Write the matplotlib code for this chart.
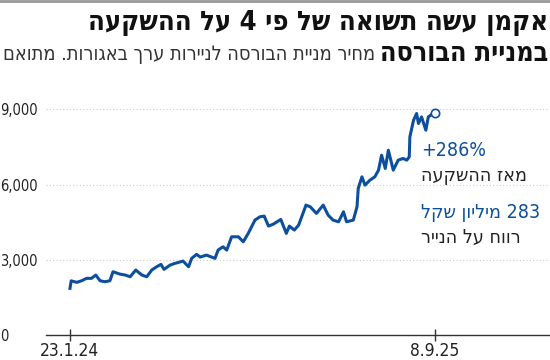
import re
import numpy as np
import pandas as pd
import matplotlib
matplotlib.use('Agg')
import matplotlib.pyplot as plt

plt.rcParams['font.family'] = ['DejaVu Sans']
plt.rcParams['font.stretch'] = 'condensed'

# data (days since 23.1.24, share price in agorot)
start = pd.Timestamp('2024-01-23')
day_offsets = [0, 2, 11, 19, 27, 35, 42, 49, 57, 65, 70, 81, 90, 98, 107, 117, 125, 133,
               141, 148, 153, 163, 171, 184, 193, 198, 206, 212, 222, 236, 241, 249, 255,
               263, 274, 282, 290, 301, 309, 316, 323, 331, 343, 352, 357, 365, 372, 377,
               384, 391, 401, 412, 420, 428, 437, 445, 450, 461, 467, 469, 475, 480, 488,
               496, 502, 507, 513, 518, 526, 534, 542, 548, 552, 553, 559, 564, 567, 572,
               579, 583, 591, 594]
prices = [1860, 2160, 2100, 2163, 2259, 2259, 2390, 2163, 2124, 2163, 2522, 2430, 2390,
          2323, 2590, 2390, 2323, 2590, 2721, 2817, 2617, 2789, 2857, 2948, 2721, 3056,
          3215, 3108, 3187, 3056, 3386, 3518, 3386, 3916, 3916, 3717, 4052, 4582, 4713,
          4741, 4343, 4422, 4609, 4052, 4343, 4183, 4382, 4713, 5179, 5111, 4849, 5179,
          4781, 4582, 4514, 4912, 4514, 4582, 5111, 5845, 6307, 5976, 6175, 6307, 6574,
          7171, 6641, 7370, 6574, 6972, 7040, 6972, 7104, 7901, 8566, 8832, 8434, 8697,
          8167, 8697, 8832, 8872]
dates = start + pd.to_timedelta(day_offsets, unit='D')

tick_dates = [pd.Timestamp('2024-01-23'), pd.Timestamp('2025-09-08')]
tick_labels = ['23.1.24', '8.9.25']
y_ticks = [0, 3000, 6000, 9000]
y_labels = ['0', '3,000', '6,000', '9,000']

title = 'אקמן עשה תשואה של פי 4 על ההשקעה'
title2 = 'במניית הבורסה'
subtitle = 'מחיר מניית הבורסה לניירות ערך באגורות. מתואם'
note1 = '+286%'
note1b = 'מאז ההשקעה'
note2 = '283 מיליון שקל'
note2b = 'רווח על הנייר'

BLUE = '#0d4f9c'
TEXT = '#222222'


def rtl(s):
    # matplotlib has no bidi: reverse hebrew, keep digit runs as they are
    parts = re.findall(r'\d+|\D', s)
    return ''.join(reversed(parts))


W, H = 550, 360
fig = plt.figure(figsize=(W / 100, H / 100), dpi=100)
ax = fig.add_axes([46 / W, (H - 335) / H, 1 - 46 / W, (335 - 109.3) / H])

ax.plot(dates, prices, color=BLUE, lw=2.2, solid_joinstyle='round', zorder=3)
ax.plot(dates[-1:], prices[-1:], 'o', ms=6, mfc='white', mec=BLUE, mew=1.2,
        clip_on=False, zorder=4)

ax.set_ylim(0, 9000)
ax.set_xlim(start - pd.Timedelta(days=39), start + pd.Timedelta(days=781))

ax.set_yticks(y_ticks)
ax.set_yticklabels(y_labels)
for lab in ax.get_yticklabels():
    lab.set_horizontalalignment('left')
ax.tick_params(axis='y', length=0, pad=33, labelsize=10.5, labelcolor=TEXT)
for y in y_ticks[1:]:
    ax.axhline(y, color='#cccccc', lw=0.8, ls=(0, (1, 2)), zorder=1, clip_on=False)

ax.set_xticks(tick_dates)
ax.set_xticklabels(tick_labels)
ax.tick_params(axis='x', direction='inout', length=8, width=1, color='#333333',
               labelsize=12.5, labelcolor=TEXT, pad=1)

for side in ['top', 'right', 'left']:
    ax.spines[side].set_visible(False)
ax.spines['bottom'].set_color('#333333')
ax.spines['bottom'].set_linewidth(1)

# annotations
fig.text(421 / W, 1 - 150 / H, note1, color=BLUE, fontsize=14, va='center', ha='left')
fig.text(421 / W, 1 - 175 / H, rtl(note1b), color=TEXT, fontsize=14, va='center', ha='left')
fig.text(421 / W, 1 - 213 / H, rtl(note2), color=BLUE, fontsize=14, va='center', ha='left')
fig.text(421 / W, 1 - 237 / H, rtl(note2b), color=TEXT, fontsize=14, va='center', ha='left')

# titles
fig.text(548 / W, 1 - 23 / H, rtl(title), fontsize=19.6, fontweight='bold', color='#111111',
         ha='right', va='center')
fig.text(548 / W, 1 - 54 / H, rtl(title2), fontsize=19.3, fontweight='bold', color='#111111',
         ha='right', va='center')
fig.text(375 / W, 1 - 54 / H, rtl(subtitle), fontsize=14.2, color='#333333',
         ha='right', va='center')

fig.add_artist(plt.Line2D([0, 1], [1 - 1 / H, 1 - 1 / H], color='#999999', lw=2))

fig.savefig('out.png', dpi=100)
